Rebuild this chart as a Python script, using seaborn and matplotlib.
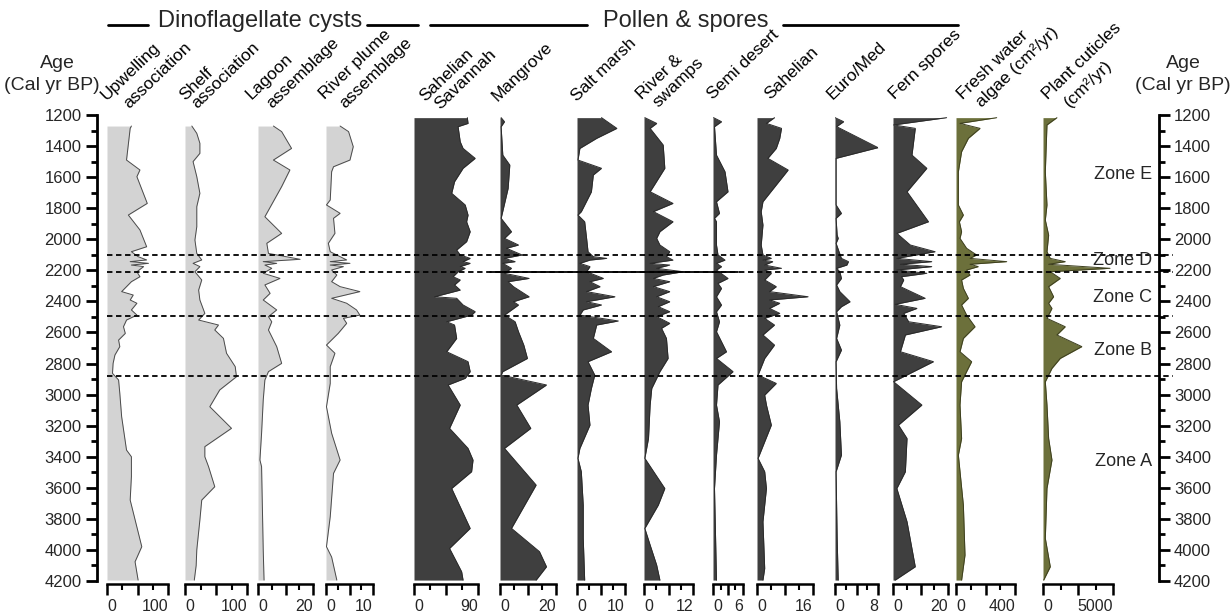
import numpy as np
import pandas as pd
import matplotlib
matplotlib.use("Agg")
import matplotlib.pyplot as plt
import seaborn as sns
from matplotlib.lines import Line2D

sns.set_theme(style="white")
plt.rcParams["font.family"] = ["Liberation Sans", "DejaVu Sans"]

# ---------------- data (age in cal yr BP, values in panel units) ----------------
upwelling_age = [1271, 1286, 1490, 1554, 1597, 1769, 1844, 1940, 2048, 2080, 2112, 2133, 2144, 2155, 2166,
                 2176, 2209, 2241, 2273, 2337, 2359, 2391, 2412, 2455, 2488, 2520, 2563, 2606, 2649, 2691,
                 2745, 2799, 2863, 2906, 2992, 3142, 3357, 3400, 3528, 3679, 3979, 4076, 4194]
upwelling_val = [40, 38, 32, 54, 49, 66, 35, 54, 65, 40, 51, 65, 38, 68, 40,
                 60, 49, 54, 40, 24, 43, 38, 49, 40, 49, 32, 27, 30, 19, 21,
                 13, 10, 9, 19, 21, 24, 32, 40, 40, 38, 57, 46, 51]

shelf_age = [1271, 1318, 1382, 1447, 1500, 1597, 1704, 1790, 1919, 2005, 2091, 2133, 2155, 2176, 2209,
             2262, 2327, 2391, 2477, 2520, 2552, 2584, 2638, 2734, 2820, 2885, 2970, 3078, 3217, 3335,
             3400, 3464, 3593, 3679, 3807, 4000, 4100, 4194]
shelf_val = [11, 19, 24, 24, 13, 19, 24, 19, 19, 16, 19, 27, 13, 24, 16,
             27, 22, 24, 32, 22, 54, 48, 62, 67, 81, 83, 56, 40, 75, 32,
             32, 38, 48, 27, 24, 19, 18, 15]

lagoon_age = [1271, 1307, 1415, 1490, 1554, 1661, 1855, 1962, 2026, 2091, 2129, 2144, 2155, 2166, 2187,
              2219, 2252, 2294, 2348, 2391, 2455, 2498, 2531, 2584, 2691, 2799, 2852, 2906, 3035, 3249,
              3421, 3464, 4001, 4194]
lagoon_val = [5.6, 8.6, 12.2, 5.6, 11.6, 8.6, 2.5, 8.6, 3.2, 3.8, 15.3, 1.9, 6.8, 2.5, 5.0,
              1.9, 8.0, 2.5, 4.4, 1.9, 6.8, 3.8, 5.0, 3.8, 6.8, 8.6, 3.8, 2.5, 1.9, 1.3,
              0.7, 1.3, 1.9, 2.2]

plume_age = [1271, 1307, 1404, 1490, 1533, 1565, 1747, 1779, 1833, 1865, 1962, 2026, 2080, 2112, 2133,
             2144, 2155, 2166, 2176, 2198, 2230, 2273, 2305, 2337, 2380, 2412, 2455, 2488, 2509, 2541,
             2606, 2681, 2734, 2820, 2928, 3078, 3249, 3421, 3507, 3786, 3979, 4046, 4194]
plume_val = [3.0, 4.8, 5.8, 5.1, 1.6, 1.2, 0.9, 0.1, 3.0, 1.6, 1.9, 0.5, 0.9, 3.0, 4.4,
             0.9, 5.1, 0.9, 3.7, 1.2, 2.3, 1.2, 3.0, 7.2, 1.2, 4.4, 6.5, 7.2, 3.7, 4.4,
             2.6, 0.1, 1.9, 0.9, 0.9, 0.1, 1.2, 3.0, 1.6, 0.9, 0.1, 1.2, 2.3]

savannah_age = [1217, 1254, 1275, 1372, 1415, 1479, 1543, 1629, 1704, 1779, 1844, 1887, 1951, 2015, 2069,
                2101, 2123, 2144, 2155, 2176, 2187, 2209, 2241, 2262, 2294, 2327, 2370, 2380, 2423, 2466,
                2488, 2531, 2552, 2638, 2724, 2788, 2852, 2895, 2938, 3067, 3217, 3346, 3421, 3496, 3604,
                3861, 3990, 4140, 4194]
savannah_val = [75, 76, 62, 65, 69, 86, 69, 57, 53, 72, 76, 74, 79, 74, 60,
                65, 79, 69, 79, 65, 72, 62, 55, 65, 57, 65, 29, 60, 69, 86,
                81, 46, 57, 60, 46, 76, 79, 72, 48, 65, 50, 76, 83, 81, 53,
                79, 50, 67, 69]

mangrove_age = [1217, 1243, 1275, 1458, 1522, 1672, 1865, 1951, 1994, 2037, 2058, 2101, 2123, 2144, 2155,
                2187, 2219, 2252, 2273, 2305, 2370, 2402, 2423, 2488, 2531, 2595, 2681, 2767, 2852, 2874,
                2938, 3067, 3217, 3346, 3582, 3861, 4011, 4108, 4194]
mangrove_val = [0.4, 1.6, 0.4, 1.0, 3.5, 2.9, 0.4, 4.1, 1.6, 6.6, 2.3, 7.9, 1.6, 5.4, 1.0,
                4.1, 1.6, 10.4, 2.9, 4.8, 10.4, 4.8, 6.6, 1.6, 5.4, 6.6, 8.5, 9.8, 1.0, 0.4,
                16.6, 6.0, 11.0, 1.6, 12.9, 4.1, 14.1, 16.6, 12.9]

saltmarsh_age = [1217, 1286, 1350, 1415, 1490, 1543, 1586, 1694, 1822, 1844, 1887, 1994, 2080, 2112, 2123,
                 2134, 2155, 2176, 2209, 2252, 2273, 2305, 2337, 2370, 2402, 2423, 2455, 2488, 2526, 2552,
                 2638, 2724, 2788, 2874, 2960, 3067, 3196, 3346, 3410, 3496, 3711, 3925, 4194]
saltmarsh_val = [5.1, 8.3, 4.1, 0.6, 0.2, 5.1, 3.4, 3.0, 0.9, 0.2, 1.6, 2.0, 2.3, 3.4, 6.2,
                 2.7, 0.6, 2.7, 2.0, 5.5, 2.7, 4.8, 2.0, 7.9, 2.0, 5.1, 1.3, 0.6, 8.6, 4.1,
                 3.4, 7.2, 2.3, 3.7, 3.0, 2.3, 2.7, 0.6, 0.2, 0.9, 1.3, 1.3, 1.6]

swamps_age = [1217, 1254, 1286, 1393, 1543, 1694, 1769, 1822, 1887, 1951, 1994, 2037, 2080, 2112, 2134,
              2155, 2166, 2187, 2209, 2230, 2252, 2273, 2305, 2337, 2370, 2402, 2434, 2466, 2498, 2541,
              2573, 2638, 2767, 2852, 2960, 3067, 3282, 3410, 3604, 3711, 3861, 3968, 4097, 4194]
swamps_val = [0.2, 3.1, 1.5, 4.7, 5.1, 1.5, 7.1, 2.3, 7.1, 3.9, 3.1, 3.9, 6.3, 5.5, 7.1,
              1.5, 6.3, 3.1, 9.6, 4.7, 2.3, 6.3, 2.3, 6.3, 3.1, 6.3, 3.5, 6.3, 3.1, 6.3,
              4.3, 5.5, 5.9, 3.9, 1.9, 1.5, 1.1, 0.2, 5.1, 3.5, 0.2, 1.5, 3.1, 3.9]

semidesert_age = [1217, 1243, 1275, 1458, 1565, 1694, 1758, 1833, 1865, 1887, 2037, 2101, 2134, 2155, 2176,
                  2198, 2252, 2284, 2316, 2370, 2423, 2466, 2531, 2595, 2724, 2767, 2852, 2938, 3067, 3174,
                  3282, 3389, 3604, 4194]
semidesert_val = [0.1, 1.7, 0.3, 0.7, 2.4, 3.0, 0.7, 1.3, 0.3, 0.7, 0.7, 1.0, 2.4, 0.7, 1.7,
                  0.7, 3.0, 1.0, 1.7, 0.7, 1.7, 0.7, 1.3, 0.7, 2.7, 0.7, 4.0, 1.0, 0.7, 1.3,
                  1.0, 0.7, 0.3, 0.7]

sahelian_age = [1217, 1254, 1286, 1350, 1415, 1479, 1554, 1758, 1822, 1908, 2037, 2101, 2123, 2134, 2144,
                2166, 2187, 2198, 2219, 2262, 2305, 2337, 2370, 2391, 2412, 2445, 2477, 2509, 2552, 2616,
                2681, 2767, 2874, 2928, 3003, 3067, 3196, 3410, 3496, 3604, 3818, 4119, 4194]
sahelian_val = [5.0, 2.7, 7.0, 6.5, 5.5, 3.1, 8.9, 1.7, 1.2, 1.7, 1.2, 1.7, 4.1, 1.7, 4.5,
                2.2, 7.0, 2.2, 4.1, 2.2, 5.5, 3.6, 14.6, 3.6, 6.5, 3.6, 6.5, 2.2, 5.0, 1.7,
                5.0, 2.2, 0.3, 5.5, 2.2, 2.7, 4.1, 0.3, 2.2, 2.7, 1.7, 2.2, 1.7]

euromed_age = [1217, 1243, 1275, 1410, 1479, 1779, 1833, 1865, 1973, 1994, 2026, 2123, 2144, 2166, 2187,
               2209, 2252, 2294, 2337, 2402, 2434, 2466, 2509, 2552, 2638, 2713, 2788, 2960, 3174, 3389,
               3496, 3925, 4194]
euromed_val = [0.0, 1.6, 0.3, 8.0, 0.2, 0.2, 1.2, 0.2, 0.4, 0.6, 0.2, 1.2, 2.5, 2.2, 0.3,
               0.9, 1.2, 0.3, 0.9, 2.8, 1.2, 0.3, 0.6, 0.9, 0.3, 1.2, 0.2, 0.3, 0.9, 1.2,
               0.2, 0.4, 0.6]

fern_age = [1217, 1264, 1286, 1458, 1543, 1694, 1887, 1962, 2037, 2080, 2123, 2144, 2161, 2176, 2198,
            2219, 2241, 2262, 2305, 2380, 2419, 2445, 2477, 2531, 2563, 2616, 2724, 2788, 2917, 3067,
            3196, 3282, 3496, 3604, 3818, 4108, 4194]
fern_val = [19.5, 0.2, 8.1, 6.9, 12.3, 5.1, 12.9, 1.4, 6.3, 15.3, 1.4, 14.1, 2.7, 14.1, 1.4,
            12.3, 3.1, 3.9, 2.7, 11.7, 0.8, 8.7, 3.9, 5.7, 17.7, 4.5, 2.7, 14.7, 0.2, 10.5,
            2.0, 5.1, 4.5, 1.4, 5.1, 8.1, 0.8]

algae_age = [1217, 1254, 1286, 1350, 1436, 1565, 1779, 1844, 1887, 1951, 1994, 2058, 2101, 2123, 2144,
             2161, 2176, 2198, 2230, 2262, 2316, 2380, 2423, 2488, 2563, 2638, 2724, 2788, 2852, 2917,
             3067, 3282, 3389, 3711, 4033, 4194]
algae_val = [276, 27, 163, 84, 38, 16, 16, 50, 23, 38, 27, 72, 140, 95, 344,
             95, 151, 72, 95, 38, 50, 84, 38, 72, 129, 50, 27, 106, 72, 38,
             27, 38, 16, 50, 61, 38]

cuticle_age = [1217, 1264, 1565, 1779, 1876, 1973, 2080, 2123, 2144, 2161, 2187, 2209, 2252, 2305, 2370,
               2412, 2445, 2509, 2563, 2616, 2691, 2767, 2831, 2917, 3067, 3282, 3421, 3604, 3925, 4108,
               4194]
cuticle_val = [995, 284, 166, 284, 166, 403, 284, 521, 1588, 403, 4787, 521, 1232, 403, 758,
               403, 640, 284, 1588, 995, 2773, 1232, 640, 166, 284, 403, 640, 284, 166, 521,
               47]

zone_boundaries = [2101, 2210, 2494, 2881]
zone_names = ["Zone E", "Zone D", "Zone C", "Zone B", "Zone A"]
zone_label_ages = [1586, 2134, 2372, 2713, 3428]

# ---------------- layout (pixels) ----------------
W, H = 1231, 614
Y_TOP, Y_BOT = 115, 581
AGE_MIN, AGE_MAX = 1200, 4200

def fx(px):
    return px / W

def fy(py):
    return 1 - py / H

DINO_FILL, DINO_EDGE = "#d3d3d3", "#4a4a4a"
POLL_FILL, POLL_EDGE = "#3f3f3f", "#2a2a2a"
OLIVE_FILL, OLIVE_EDGE = "#6c703b", "#3d3f1f"

panels = [
    # header lines, age, val, max, left px, right px, fill, edge, header positions
    (["Upwelling", "association"], upwelling_age, upwelling_val, 100, 107, 168, DINO_FILL, DINO_EDGE, [(107, 101), (129, 109)]),
    (["Shelf", "association"], shelf_age, shelf_val, 100, 185, 247, DINO_FILL, DINO_EDGE, [(185, 101), (197, 109)]),
    (["Lagoon", "assemblage"], lagoon_age, lagoon_val, 20, 258, 313, DINO_FILL, DINO_EDGE, [(252, 100), (272, 109)]),
    (["River plume", "assemblage"], plume_age, plume_val, 10, 326, 373, DINO_FILL, DINO_EDGE, [(325, 100), (345, 109)]),
    (["Sahelian", "Savannah"], savannah_age, savannah_val, 90, 414, 478, POLL_FILL, POLL_EDGE, [(425, 102), (440, 110)]),
    (["Mangrove"], mangrove_age, mangrove_val, 20, 500, 556, POLL_FILL, POLL_EDGE, [(498, 102)]),
    (["Salt marsh"], saltmarsh_age, saltmarsh_val, 10, 577, 625, POLL_FILL, POLL_EDGE, [(577, 102)]),
    (["River &", "swamps"], swamps_age, swamps_val, 12, 644, 693, POLL_FILL, POLL_EDGE, [(642, 100), (658, 108)]),
    (["Semi desert"], semidesert_age, semidesert_val, 6, 713, 743, POLL_FILL, POLL_EDGE, [(713, 100)]),
    (["Sahelian"], sahelian_age, sahelian_val, 16, 757, 813, POLL_FILL, POLL_EDGE, [(770, 100)]),
    (["Euro/Med"], euromed_age, euromed_val, 8, 835, 878, POLL_FILL, POLL_EDGE, [(833, 100)]),
    (["Fern spores"], fern_age, fern_val, 20, 893, 948, POLL_FILL, POLL_EDGE, [(895, 100)]),
    (["Fresh water", "algae (cm\u00b2/yr)"], algae_age, algae_val, 400, 956, 1015, OLIVE_FILL, OLIVE_EDGE, [(963, 100), (982, 108)]),
    (["Plant cuticles", "(cm\u00b2/yr)"], cuticle_age, cuticle_val, 5000, 1043, 1113, OLIVE_FILL, OLIVE_EDGE, [(1048, 100), (1070, 108)]),
]

fig = plt.figure(figsize=(W / 100, H / 100), dpi=100)
fig.patch.set_facecolor("white")
ax_h = (Y_BOT - Y_TOP) / H

for hdr, ages, vals, vmax, L, R, fc, ec, hpos in panels:
    ax = fig.add_axes([fx(L), fy(Y_BOT), (R - L) / W, ax_h])
    ax.patch.set_alpha(0)
    df = pd.DataFrame({"age": ages, "val": vals})
    ax.fill_betweenx(df["age"], 0, df["val"], color=fc, lw=0, zorder=1)
    sns.lineplot(data=df, x="val", y="age", orient="y", estimator=None, sort=False,
                 color=ec, lw=0.7, ax=ax, zorder=2)
    ax.set_xlabel("")
    ax.set_ylabel("")
    ax.set_xlim(0, vmax)
    ax.set_ylim(AGE_MAX, AGE_MIN)
    for s in ["top", "left", "right"]:
        ax.spines[s].set_visible(False)
    ax.spines["bottom"].set_visible(True)
    ax.spines["bottom"].set_color("black")
    ax.spines["bottom"].set_linewidth(1.8)
    ax.spines["bottom"].set_position(("outward", 2))
    ax.set_yticks([])
    ax.set_xticks([0, vmax / 2, vmax])
    ax.set_xticks([vmax / 4, 3 * vmax / 4], minor=True)
    ax.set_xticklabels(["0", "", f"{vmax:g}"])
    ax.tick_params(axis="x", which="major", direction="out", length=8, width=1.8,
                   color="black", labelsize=11.5, pad=3, bottom=True)
    ax.tick_params(axis="x", which="minor", direction="out", length=4, width=1.5,
                   color="black", bottom=True)
    tl = ax.get_xticklabels()
    tl[0].set_ha("left")
    tl[2].set_ha("right")
    for (px, py), line in zip(hpos, hdr):
        fig.text(fx(px), fy(py), line, rotation=44, rotation_mode="anchor",
                 ha="left", va="baseline", fontsize=12.5, color="black")

# age axes
for side, xpx in (("left", 97), ("right", 1158)):
    ax = fig.add_axes([fx(xpx), fy(Y_BOT), 0.0005, ax_h])
    ax.patch.set_alpha(0)
    ax.set_ylim(AGE_MAX, AGE_MIN)
    ax.set_xticks([])
    for s in ["top", "bottom", "left", "right"]:
        ax.spines[s].set_visible(s == side)
    ax.spines[side].set_linewidth(2)
    ax.spines[side].set_color("black")
    ax.set_yticks(np.arange(1200, 4201, 200))
    ax.set_yticks(np.arange(1300, 4200, 200), minor=True)
    if side == "right":
        ax.yaxis.tick_right()
        ax.yaxis.set_label_position("right")
    ax.tick_params(axis="y", which="major", direction="out", length=8, width=2,
                   labelsize=12, pad=3, color="black",
                   left=(side == "left"), right=(side == "right"),
                   labelleft=(side == "left"), labelright=(side == "right"))
    ax.tick_params(axis="y", which="minor", direction="out", length=4, width=2, color="black",
                   left=(side == "left"), right=(side == "right"))

fig.text(fx(57), fy(63), "Age", ha="center", va="center", fontsize=14)
fig.text(fx(52), fy(85), "(Cal yr BP)", ha="center", va="center", fontsize=14)
fig.text(fx(1183), fy(63), "Age", ha="center", va="center", fontsize=14)
fig.text(fx(1183), fy(85), "(Cal yr BP)", ha="center", va="center", fontsize=14)

# overlay for zone lines and labels
OV_L, OV_R = 107, 1173
ov = fig.add_axes([fx(OV_L), fy(Y_BOT), (OV_R - OV_L) / W, ax_h], zorder=10)
ov.patch.set_alpha(0)
ov.set_xlim(OV_L, OV_R)
ov.set_ylim(AGE_MAX, AGE_MIN)
ov.axis("off")
for b in zone_boundaries:
    ov.plot([OV_L, OV_R], [b, b], color="black", lw=1.3, ls=(0, (3, 2)))
ov.plot([490, 738], [zone_boundaries[1]] * 2, color="black", lw=1.3)
for name, a in zip(zone_names, zone_label_ages):
    ov.text(1152, a, name, ha="right", va="center", fontsize=13)

# group titles
fig.text(fx(260), fy(21), "Dinoflagellate cysts", ha="center", va="center", fontsize=17)
fig.text(fx(686), fy(21), "Pollen & spores", ha="center", va="center", fontsize=17)
for x0, x1 in ((108, 148), (367, 418), (430, 587), (783, 958)):
    fig.add_artist(Line2D([fx(x0), fx(x1)], [fy(25), fy(25)], color="black", lw=2,
                          transform=fig.transFigure))

fig.savefig("out.png", dpi=100, facecolor="white")
